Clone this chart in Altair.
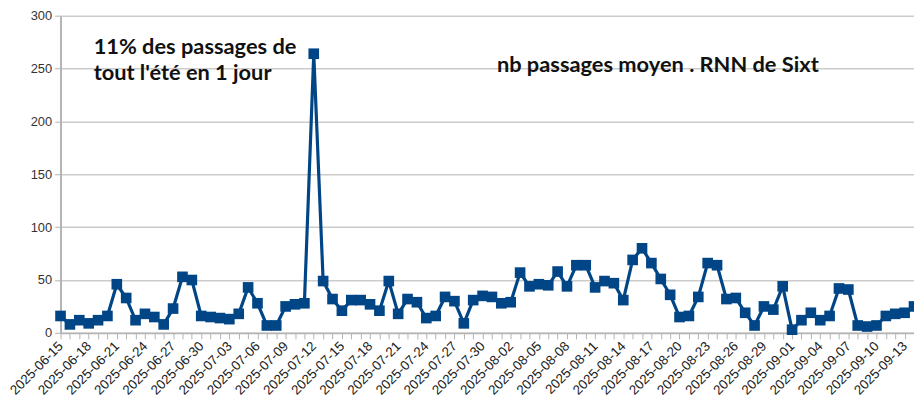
import json
import altair as alt
import pandas as pd

# daily dates 2025-06-15 .. 2025-09-14
dates = [d.strftime("%Y-%m-%d") for d in pd.date_range("2025-06-15", "2025-09-14", freq="D")]
values = [16, 8, 12, 9, 12, 16, 46, 33, 12, 18, 15, 8, 23, 53, 50, 16, 15, 14, 13, 18,
          43, 28, 7, 7, 25, 27, 28, 264, 49, 32, 21, 31, 31, 27, 21, 49, 18, 32, 29, 14,
          16, 34, 30, 9, 31, 35, 34, 28, 29, 57, 44, 46, 45, 58, 44, 64, 64, 43, 49, 47,
          31, 69, 80, 66, 51, 36, 15, 16, 34, 66, 64, 32, 33, 19, 7, 25, 22, 44, 3, 12,
          19, 12, 16, 42, 41, 7, 6, 7, 16, 18, 19, 25]
tick_labels = dates[::3]
y_ticks = [0, 50, 100, 150, 200, 250, 300]

notes_text = ["11% des passages de", "tout l'été en 1 jour", "nb passages moyen . RNN de Sixt"]
notes_date = ["2025-06-18", "2025-06-18", "2025-07-31"]
notes_val = [270, 246, 253]

df = pd.DataFrame({"date": dates, "value": values})
notes = pd.DataFrame({"text": notes_text, "date": notes_date, "value": notes_val})

blue = "#004586"
label_expr = "indexof(" + json.dumps(tick_labels) + ", datum.value) >= 0 ? datum.value : ''"

x_scale = alt.Scale(type="point", domain=dates, padding=0)
x_enc = alt.X("date:O", scale=x_scale, sort=None,
              axis=alt.Axis(title=None, labelExpr=label_expr,
                            labelAngle=315, labelAlign="right", labelBaseline="middle",
                            labelOverlap=False, labelBound=False, grid=False,
                            tickSize=6, tickColor="#b3b3b3", domainColor="#b3b3b3",
                            domainWidth=2, labelFontSize=13.5, labelColor="#222222",
                            labelFont="Liberation Sans", labelPadding=5))
y_enc = alt.Y("value:Q",
              scale=alt.Scale(domain=[0, 300], nice=False),
              axis=alt.Axis(title=None, values=y_ticks, grid=True, gridColor="#cccccc",
                            gridWidth=1.5, tickSize=6, tickColor="#b3b3b3",
                            domainColor="#b3b3b3", domainWidth=2, labelFontSize=13,
                            labelColor="#333333", labelFont="Liberation Sans", labelPadding=3))

line = alt.Chart(df).mark_line(color=blue, strokeWidth=3.2).encode(x=x_enc, y=y_enc)
pts = alt.Chart(df).mark_point(shape="square", filled=True, color=blue, size=115, opacity=1).encode(
    x=alt.X("date:O", scale=x_scale, sort=None), y="value:Q")
txt = alt.Chart(notes).mark_text(align="left", baseline="middle", font="Lato", fontSize=22,
                                 fontWeight="bold", color="#111111", dx=5).encode(
    x=alt.X("date:O", scale=x_scale, sort=None), y="value:Q", text="text:N")

chart = alt.layer(line, pts, txt).properties(
    width=861, height=320,
    autosize=alt.AutoSizeParams(type="none"),
    padding={"left": 53, "top": 6, "right": 0, "bottom": 69},
).configure_view(stroke=None)

chart.save("out.html", embed_options={"renderer": "svg", "actions": False})
